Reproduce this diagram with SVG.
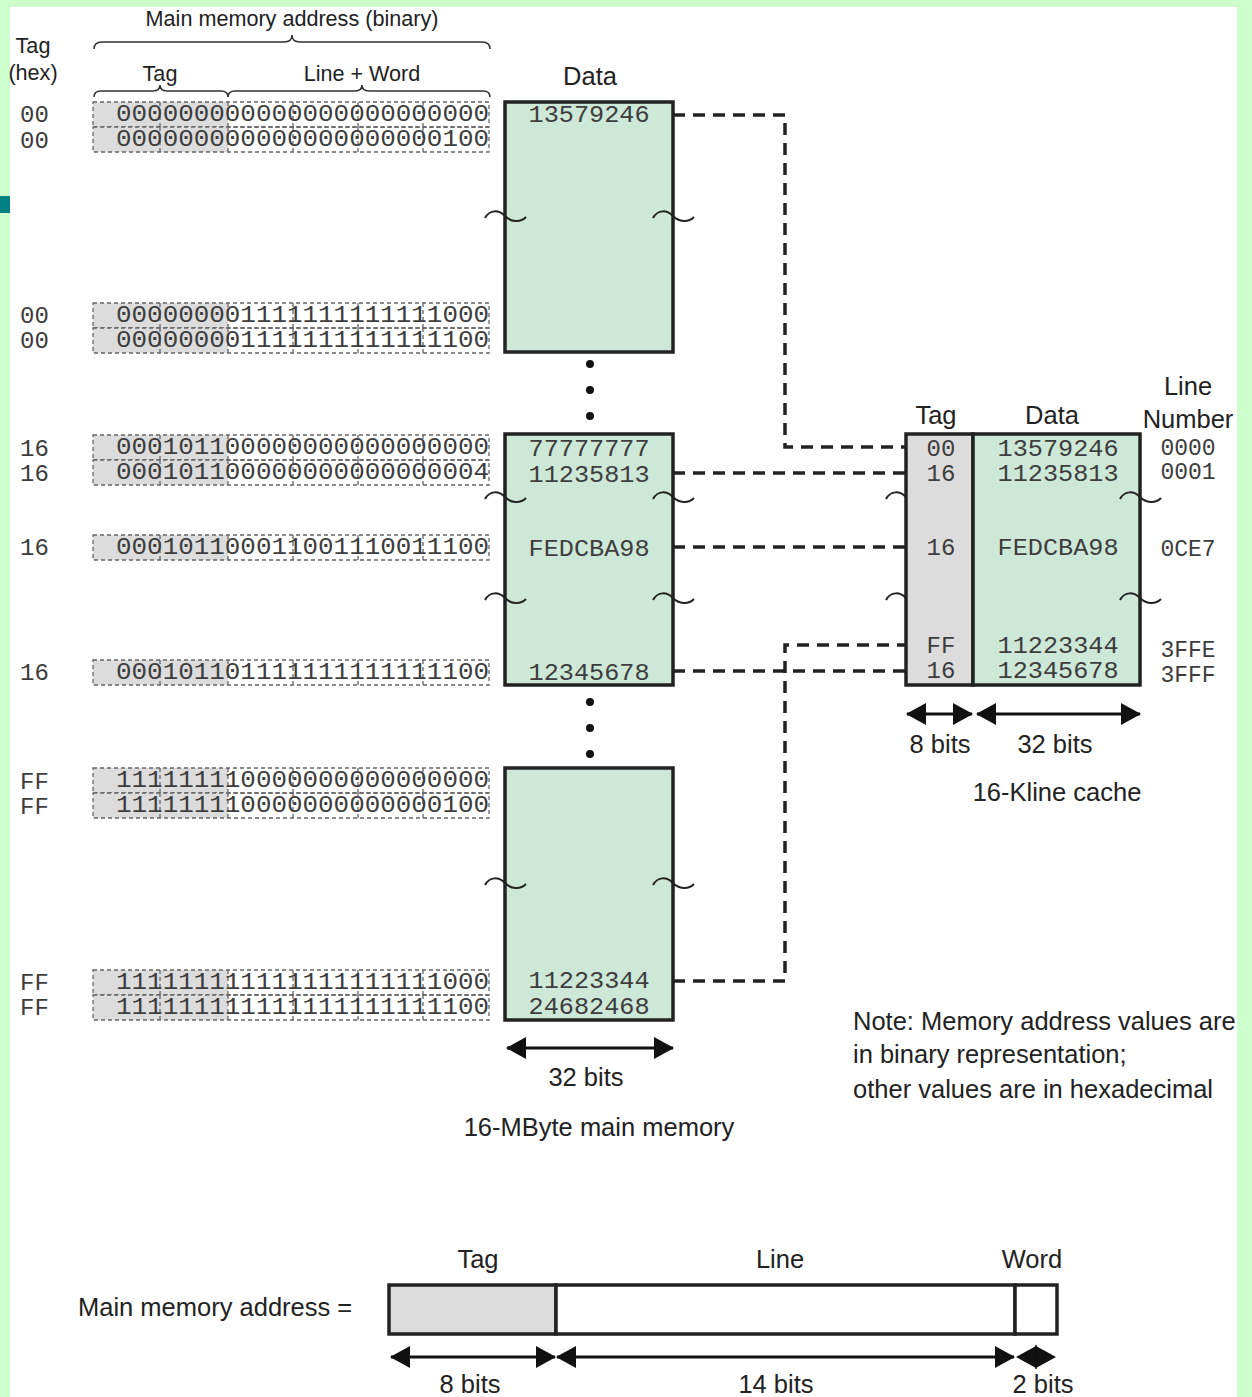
<svg xmlns="http://www.w3.org/2000/svg" width="1252" height="1397" viewBox="0 0 1252 1397">
<style>
.sans{font-family:"Liberation Sans",Arial,sans-serif;fill:#222;}
.lbl{font-size:25.5px;}
.mono{font-family:"Liberation Mono","DejaVu Sans Mono",monospace;fill:#3d3d3d;}
.bin{font-size:24px;}
.val{font-size:24px;}
.hex{font-size:24px;}
.grp{fill:none;stroke:#666;stroke-width:1.3;stroke-dasharray:4 3;}
.tagfill{fill:#dcdcdc;}
.box{fill:#cde8d6;stroke:#222;stroke-width:3.5;}
.tagbox{fill:#dcdcdc;stroke:#222;stroke-width:3.5;}
.tilde{fill:none;stroke:#222;stroke-width:2;}
.conn{fill:none;stroke:#222;stroke-width:3.5;stroke-dasharray:12 8;}
.dim{stroke:#111;stroke-width:3;fill:none;marker-start:url(#ah);marker-end:url(#ah);}
.brace{fill:none;stroke:#333;stroke-width:1.6;}
</style>
<defs>
<marker id="ah" viewBox="0 0 20 22" refX="19" refY="11" markerWidth="20" markerHeight="22" markerUnits="userSpaceOnUse" orient="auto-start-reverse">
<path d="M0,0 L20,11 L0,22 z" fill="#111"/>
</marker>
<path id="tl" d="M-20,2 C-15,-7 -6,-6 0,0 C6,6 15,7 21,1"/>
<path id="tlh" d="M-20,2 C-15,-7 -6,-6 0,0"/>
<g id="rowgrid">
<rect x="93" y="0" width="135" height="25" class="tagfill"/>
<rect x="93" y="0" width="396" height="25" class="grp"/>
<path d="M160,0 V25 M228,0 V25 M293,0 V25 M358,0 V25 M423,0 V25" class="grp"/>
</g>
</defs>

<!-- background frame -->
<rect x="0" y="0" width="1252" height="1397" fill="#ccffcc"/>
<rect x="10" y="7" width="1227" height="1390" fill="#ffffff"/>
<rect x="0" y="196" width="10" height="17" fill="#008080"/>

<!-- header labels -->
<g id="headers">
<text class="sans" x="292" y="26" font-size="21.6" text-anchor="middle">Main memory address (binary)</text>
<path class="brace" d="M94,49 Q94,42 102,42 L284,42 Q292,42 292,35 Q292,42 300,42 L482,42 Q490,42 490,49"/>
<text class="sans" x="33" y="53" font-size="21.6" text-anchor="middle">Tag</text>
<text class="sans" x="33" y="80" font-size="21.6" text-anchor="middle">(hex)</text>
<text class="sans" x="160" y="81" font-size="21.6" text-anchor="middle">Tag</text>
<text class="sans" x="362" y="81" font-size="21.6" text-anchor="middle">Line + Word</text>
<path class="brace" d="M94,97 Q94,91 101,91 L153,91 Q160,91 160,85 Q160,91 167,91 L221,91 Q228,91 228,97"/>
<path class="brace" d="M228,97 Q228,91 235,91 L355,91 Q362,91 362,85 Q362,91 369,91 L483,91 Q490,91 490,97"/>
<text class="sans lbl" x="590" y="85" text-anchor="middle">Data</text>
</g>

<!-- address rows -->
<g id="addresses">
<use href="#rowgrid" y="102"/><use href="#rowgrid" y="127"/>
<use href="#rowgrid" y="303"/><use href="#rowgrid" y="328"/>
<use href="#rowgrid" y="435"/><use href="#rowgrid" y="460"/>
<use href="#rowgrid" y="535"/>
<use href="#rowgrid" y="660"/>
<use href="#rowgrid" y="768"/><use href="#rowgrid" y="793"/>
<use href="#rowgrid" y="970"/><use href="#rowgrid" y="995"/>
<g class="mono bin">
<text x="116" y="121" textLength="373" lengthAdjust="spacingAndGlyphs">000000000000000000000000</text>
<text x="116" y="146" textLength="373" lengthAdjust="spacingAndGlyphs">000000000000000000000100</text>
<text x="116" y="322" textLength="373" lengthAdjust="spacingAndGlyphs">000000001111111111111000</text>
<text x="116" y="347" textLength="373" lengthAdjust="spacingAndGlyphs">000000001111111111111100</text>
<text x="116" y="454" textLength="373" lengthAdjust="spacingAndGlyphs">000101100000000000000000</text>
<text x="116" y="479" textLength="373" lengthAdjust="spacingAndGlyphs">000101100000000000000004</text>
<text x="116" y="554" textLength="373" lengthAdjust="spacingAndGlyphs">000101100011001110011100</text>
<text x="116" y="679" textLength="373" lengthAdjust="spacingAndGlyphs">000101101111111111111100</text>
<text x="116" y="787" textLength="373" lengthAdjust="spacingAndGlyphs">111111110000000000000000</text>
<text x="116" y="812" textLength="373" lengthAdjust="spacingAndGlyphs">111111110000000000000100</text>
<text x="116" y="989" textLength="373" lengthAdjust="spacingAndGlyphs">111111111111111111111000</text>
<text x="116" y="1014" textLength="373" lengthAdjust="spacingAndGlyphs">111111111111111111111100</text>
</g>
<g class="mono hex">
<text x="20" y="122">00</text><text x="20" y="148">00</text>
<text x="20" y="323">00</text><text x="20" y="348">00</text>
<text x="20" y="456">16</text><text x="20" y="481">16</text>
<text x="20" y="555">16</text>
<text x="20" y="680">16</text>
<text x="20" y="789">FF</text><text x="20" y="814">FF</text>
<text x="20" y="990">FF</text><text x="20" y="1015">FF</text>
</g>
</g>

<!-- main memory blocks -->
<g id="mem1">
<rect x="505" y="102" width="168" height="250" class="box"/>
<use href="#tl" x="505" y="216" class="tilde"/><use href="#tl" x="673" y="216" class="tilde"/>
<text class="mono val" x="589" y="122" text-anchor="middle" textLength="121" lengthAdjust="spacingAndGlyphs">13579246</text>
</g>
<g id="dots">
<circle cx="590" cy="364" r="4" fill="#111"/><circle cx="590" cy="390" r="4" fill="#111"/><circle cx="590" cy="416" r="4" fill="#111"/>
<circle cx="590" cy="702" r="4" fill="#111"/><circle cx="590" cy="728" r="4" fill="#111"/><circle cx="590" cy="754" r="4" fill="#111"/>
</g>
<g id="mem2">
<rect x="505" y="434" width="168" height="251" class="box"/>
<use href="#tl" x="505" y="497" class="tilde"/><use href="#tl" x="673" y="497" class="tilde"/>
<use href="#tl" x="505" y="598" class="tilde"/><use href="#tl" x="673" y="598" class="tilde"/>
<g class="mono val" text-anchor="middle">
<text x="589" y="456" textLength="121" lengthAdjust="spacingAndGlyphs">77777777</text>
<text x="589" y="482" textLength="121" lengthAdjust="spacingAndGlyphs">11235813</text>
<text x="589" y="556" textLength="121" lengthAdjust="spacingAndGlyphs">FEDCBA98</text>
<text x="589" y="680" textLength="121" lengthAdjust="spacingAndGlyphs">12345678</text>
</g>
</g>
<g id="mem3">
<rect x="505" y="768" width="168" height="252" class="box"/>
<use href="#tl" x="505" y="883" class="tilde"/><use href="#tl" x="673" y="883" class="tilde"/>
<g class="mono val" text-anchor="middle">
<text x="589" y="988" textLength="121" lengthAdjust="spacingAndGlyphs">11223344</text>
<text x="589" y="1014" textLength="121" lengthAdjust="spacingAndGlyphs">24682468</text>
</g>
</g>
<g id="mem-dim">
<line x1="507" y1="1048" x2="673" y2="1048" class="dim"/>
<text class="sans lbl" x="586" y="1086" text-anchor="middle">32 bits</text>
<text class="sans lbl" x="599" y="1136" text-anchor="middle">16-MByte main memory</text>
</g>

<!-- cache -->
<g id="cache">
<text class="sans lbl" x="936" y="424" text-anchor="middle">Tag</text>
<text class="sans lbl" x="1052" y="424" text-anchor="middle">Data</text>
<text class="sans lbl" x="1188" y="395" text-anchor="middle">Line</text>
<text class="sans lbl" x="1188" y="428" text-anchor="middle">Number</text>
<rect x="906" y="434" width="67" height="251" class="tagbox"/>
<rect x="973" y="434" width="167" height="251" class="box"/>
<use href="#tlh" x="906" y="497" class="tilde"/><use href="#tlh" x="906" y="598" class="tilde"/>
<use href="#tl" x="1140" y="497" class="tilde"/><use href="#tl" x="1140" y="598" class="tilde"/>
<g class="mono val" text-anchor="middle">
<text x="941" y="456">00</text>
<text x="941" y="481">16</text>
<text x="941" y="555">16</text>
<text x="941" y="653">FF</text>
<text x="941" y="678">16</text>
<text x="1058" y="456" textLength="121" lengthAdjust="spacingAndGlyphs">13579246</text>
<text x="1058" y="481" textLength="121" lengthAdjust="spacingAndGlyphs">11235813</text>
<text x="1058" y="555" textLength="121" lengthAdjust="spacingAndGlyphs">FEDCBA98</text>
<text x="1058" y="653" textLength="121" lengthAdjust="spacingAndGlyphs">11223344</text>
<text x="1058" y="678" textLength="121" lengthAdjust="spacingAndGlyphs">12345678</text>
</g>
<g class="mono hex" text-anchor="middle" font-size="23">
<text x="1188" y="455" font-size="23">0000</text>
<text x="1188" y="479" font-size="23">0001</text>
<text x="1188" y="556" font-size="23">0CE7</text>
<text x="1188" y="657" font-size="23">3FFE</text>
<text x="1188" y="682" font-size="23">3FFF</text>
</g>
<line x1="907" y1="714" x2="972" y2="714" class="dim"/>
<line x1="977" y1="714" x2="1140" y2="714" class="dim"/>
<text class="sans lbl" x="940" y="753" text-anchor="middle">8 bits</text>
<text class="sans lbl" x="1055" y="753" text-anchor="middle">32 bits</text>
<text class="sans lbl" x="1057" y="801" text-anchor="middle">16-Kline cache</text>
</g>

<!-- connectors -->
<g id="connectors">
<path class="conn" d="M673,115 H785 V447 H906"/>
<path class="conn" d="M673,473 H906"/>
<path class="conn" d="M673,547 H906"/>
<path class="conn" d="M673,671 H906"/>
<path class="conn" d="M673,981 H785 V645 H906"/>
</g>

<!-- note -->
<g id="note" class="sans lbl">
<text x="853" y="1030">Note: Memory address values are</text>
<text x="853" y="1063">in binary representation;</text>
<text x="853" y="1098">other values are in hexadecimal</text>
</g>

<!-- address format -->
<g id="format">
<text class="sans lbl" x="78" y="1316">Main memory address =</text>
<text class="sans lbl" x="478" y="1268" text-anchor="middle">Tag</text>
<text class="sans lbl" x="780" y="1268" text-anchor="middle">Line</text>
<text class="sans lbl" x="1032" y="1268" text-anchor="middle">Word</text>
<rect x="389" y="1285" width="167" height="49" fill="#dcdcdc" stroke="#222" stroke-width="3.5"/>
<rect x="556" y="1285" width="459" height="49" fill="#fff" stroke="#222" stroke-width="3.5"/>
<rect x="1015" y="1285" width="42" height="49" fill="#fff" stroke="#222" stroke-width="3.5"/>
<line x1="391" y1="1357" x2="555" y2="1357" class="dim"/>
<line x1="557" y1="1357" x2="1014" y2="1357" class="dim"/>
<path d="M1016,1357 L1036,1346 L1036,1368 z M1056,1357 L1036,1346 L1036,1368 z" fill="#111"/>
<line x1="1036" y1="1345" x2="1036" y2="1369" stroke="#111" stroke-width="1.5"/>
<text class="sans lbl" x="470" y="1393" text-anchor="middle">8 bits</text>
<text class="sans lbl" x="776" y="1393" text-anchor="middle">14 bits</text>
<text class="sans lbl" x="1043" y="1393" text-anchor="middle">2 bits</text>
</g>
</svg>
